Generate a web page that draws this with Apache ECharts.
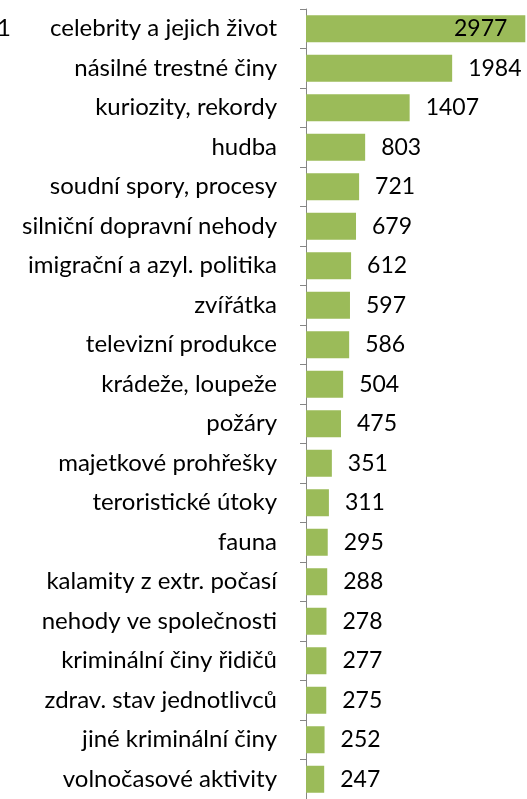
<!DOCTYPE html>
<html>
<head>
<meta charset="utf-8">
<script src="https://cdn.jsdelivr.net/npm/echarts@6/dist/echarts.min.js"></script>
<style>
  html, body { margin: 0; padding: 0; background: #fff; }
  #chart { width: 527px; height: 799px; }
</style>
</head>
<body>
<div id="chart"></div>
<script>
// kategorie shora dolů
var categories = [
  "celebrity a jejich život",
  "násilné trestné činy",
  "kuriozity, rekordy",
  "hudba",
  "soudní spory, procesy",
  "silniční dopravní nehody",
  "imigrační a azyl. politika",
  "zvířátka",
  "televizní produkce",
  "krádeže, loupeže",
  "požáry",
  "majetkové prohřešky",
  "teroristické útoky",
  "fauna",
  "kalamity z extr. počasí",
  "nehody ve společnosti",
  "kriminální činy řidičů",
  "zdrav. stav jednotlivců",
  "jiné kriminální činy",
  "volnočasové aktivity"
];
var values = [2977, 1984, 1407, 803, 721, 679, 612, 597, 586, 504, 475, 351, 311, 295, 288, 278, 277, 275, 252, 247];

var FONT = "Lato";

var myChart = echarts.init(document.getElementById("chart"));
var option = {
  animation: false,
  textStyle: { fontFamily: FONT },
  grid: { left: 306, right: -1, top: 9, bottom: -4, containLabel: false },
  xAxis: {
    type: "value",
    min: 0,
    max: 3000,
    show: false
  },
  yAxis: {
    type: "category",
    inverse: true,
    data: categories,
    axisLine: { show: true, lineStyle: { color: "#868686", width: 1 } },
    axisTick: { show: true, length: 6, lineStyle: { color: "#868686" } },
    axisLabel: { color: "#000", fontSize: 24, fontFamily: FONT, margin: 29 }
  },
  series: [{
    type: "bar",
    data: values.map(function (v, i) {
      return {
        value: v,
        label: i === 0 ? { position: "insideRight", distance: 18 } : {}
      };
    }),
    barWidth: 27,
    itemStyle: { color: "#9BBB59" },
    label: {
      show: true,
      position: "right",
      distance: 16,
      color: "#000",
      fontSize: 23,
      fontFamily: FONT
    }
  }],
  // useknutý kus textu vlevo nahoře
  graphic: [{
    type: "text",
    left: -3,
    top: 16,
    style: { text: "1", fontSize: 24, fontFamily: FONT, fill: "#000" }
  }]
};
myChart.setOption(option);
</script>
</body>
</html>
